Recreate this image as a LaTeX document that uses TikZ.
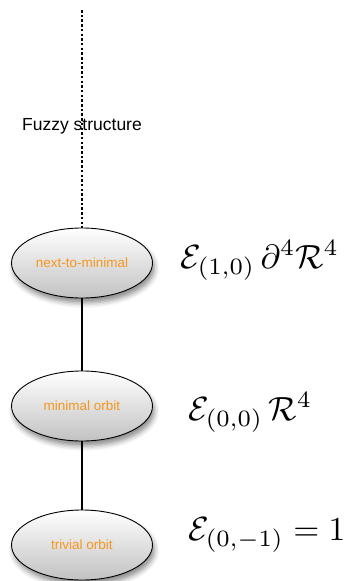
\documentclass[tikz,border=0pt]{standalone}
\usepackage{fontspec}
\setsansfont{Liberation Sans}
\usetikzlibrary{shapes.geometric,shadows.blur}
\definecolor{orbitorange}{RGB}{247,150,30}
\newcommand{\bigmath}[1]{\scalebox{3.35}{$#1$}}
\tikzset{
  orbit/.style={ellipse, draw=black, line width=0.9pt,
    minimum width=141pt, minimum height=70pt, inner sep=0pt,
    top color=white, bottom color=black!24,
    blur shadow={shadow xshift=2pt, shadow yshift=-5pt,
                 shadow blur radius=5pt, shadow opacity=45},
    font=\sffamily\fontsize{13.5}{16}\selectfont, text=orbitorange},
  eqn/.style={anchor=base west, inner sep=0pt},
  link/.style={line width=1.3pt},
  fuzzy/.style={line width=1.3pt, dash pattern=on 2.5pt off 2.2pt},
  caption/.style={anchor=base west, inner sep=0pt,
    font=\sffamily\fontsize{17.5}{20}\selectfont},
}
\begin{document}
\begin{tikzpicture}[x=1pt, y=-1pt]
  \useasboundingbox (0,0) rectangle (356,581);

  % orbit nodes
  \node[orbit] (n1) at (82,263) {next-to-minimal};
  \node[orbit] (n2) at (82,406) {minimal orbit};
  \node[orbit] (n3) at (82,545) {trivial orbit};

  % fuzzy region above the top orbit
  \node[caption] (fz) at (22,130) {Fuzzy structure};
  \coordinate (top) at (82,10);
  \draw[fuzzy] (top) -- (n1.north);

  % closure relations between orbits
  \draw[link] (n1.south) -- (n2.north);
  \draw[link] (n2.south) -- (n3.north);

  % associated coefficients
  \node[eqn] (e1) at (180,268) {\bigmath{\mathcal{E}_{(1,0)}\,\partial^4\mathcal{R}^4}};
  \node[eqn] (e2) at (188,420) {\bigmath{\mathcal{E}_{(0,0)}\,\mathcal{R}^4}};
  \node[eqn] (e3) at (188,540) {\bigmath{\mathcal{E}_{(0,-1)}=1}};
\end{tikzpicture}
\end{document}
